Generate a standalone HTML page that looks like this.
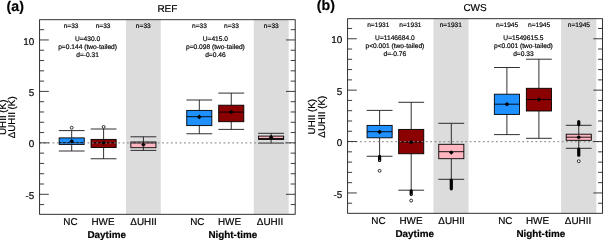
<!DOCTYPE html>
<html><head><meta charset="utf-8"><title>UHII boxplots</title>
<style>
html,body{margin:0;padding:0;background:#fff;}
body{width:603px;height:240px;overflow:hidden;}
svg{display:block;will-change:transform;}
text{stroke:#000;stroke-width:0.18px;text-rendering:geometricPrecision;font-family:"Liberation Sans",sans-serif;fill:#000;}
</style></head><body>
<svg width="603" height="240" viewBox="0 0 603 240">
<rect width="603" height="240" fill="#fff"/>
<rect x="126.00" y="19.70" width="34.80" height="194.60" fill="#dcdcdc"/>
<rect x="253.80" y="19.70" width="34.90" height="194.60" fill="#dcdcdc"/>
<path d="M71.70 130.60V137.90M71.70 144.40V151.00M58.80 130.60H84.60M58.80 151.00H84.60" stroke="#1a1a1a" stroke-width="0.9" fill="none"/>
<rect x="59.15" y="137.90" width="25.10" height="6.50" fill="#1e90ff" stroke="#000" stroke-width="0.9"/>
<line x1="59.15" y1="142.65" x2="84.25" y2="142.65" stroke="#000" stroke-width="0.9"/>
<path d="M103.60 129.00V139.40M103.60 147.50V158.75M90.70 129.00H116.50M90.70 158.75H116.50" stroke="#1a1a1a" stroke-width="0.9" fill="none"/>
<rect x="91.05" y="139.40" width="25.10" height="8.10" fill="#8b0000" stroke="#000" stroke-width="0.9"/>
<line x1="91.05" y1="142.65" x2="116.15" y2="142.65" stroke="#000" stroke-width="0.9"/>
<path d="M143.40 136.80V142.00M143.40 147.70V150.40M130.50 136.80H156.30M130.50 150.40H156.30" stroke="#1a1a1a" stroke-width="0.9" fill="none"/>
<rect x="130.85" y="142.00" width="25.10" height="5.70" fill="#ffb6c1" stroke="#000" stroke-width="0.9"/>
<line x1="130.85" y1="143.00" x2="155.95" y2="143.00" stroke="#000" stroke-width="0.9"/>
<path d="M199.30 100.00V110.40M199.30 125.60V133.75M186.40 100.00H212.20M186.40 133.75H212.20" stroke="#1a1a1a" stroke-width="0.9" fill="none"/>
<rect x="186.75" y="110.40" width="25.10" height="15.20" fill="#1e90ff" stroke="#000" stroke-width="0.9"/>
<line x1="186.75" y1="116.70" x2="211.85" y2="116.70" stroke="#000" stroke-width="0.9"/>
<path d="M231.25 93.10V105.20M231.25 121.70V129.40M218.35 93.10H244.15M218.35 129.40H244.15" stroke="#1a1a1a" stroke-width="0.9" fill="none"/>
<rect x="218.70" y="105.20" width="25.10" height="16.50" fill="#8b0000" stroke="#000" stroke-width="0.9"/>
<line x1="218.70" y1="112.10" x2="243.80" y2="112.10" stroke="#000" stroke-width="0.9"/>
<path d="M271.10 133.30V136.10M271.10 139.50V143.10M258.20 133.30H284.00M258.20 143.10H284.00" stroke="#1a1a1a" stroke-width="0.9" fill="none"/>
<rect x="258.55" y="136.10" width="25.10" height="3.40" fill="#ffb6c1" stroke="#000" stroke-width="0.9"/>
<line x1="258.55" y1="138.50" x2="283.65" y2="138.50" stroke="#000" stroke-width="0.9"/>
<line x1="39.37" y1="142.85" x2="295.20" y2="142.85" stroke="#888" stroke-opacity="0.88" stroke-width="1.25" stroke-dasharray="1.75 2.635"/>
<circle cx="71.70" cy="127.70" r="1.45" fill="#fff" stroke="#000" stroke-width="0.8"/>
<path d="M71.70 138.90L74.00 141.20L71.70 143.50L69.40 141.20Z" fill="#000"/>
<circle cx="103.60" cy="126.90" r="1.45" fill="#fff" stroke="#000" stroke-width="0.8"/>
<path d="M103.60 140.40L105.90 142.70L103.60 145.00L101.30 142.70Z" fill="#000"/>
<path d="M143.40 142.50L145.70 144.80L143.40 147.10L141.10 144.80Z" fill="#000"/>
<path d="M199.30 114.60L201.60 116.90L199.30 119.20L197.00 116.90Z" fill="#000"/>
<path d="M231.25 109.70L233.55 112.00L231.25 114.30L228.95 112.00Z" fill="#000"/>
<path d="M271.10 135.00L273.40 137.30L271.10 139.60L268.80 137.30Z" fill="#000"/>
<rect x="39.60" y="19.70" width="255.60" height="194.60" fill="none" stroke="#1c1c1c" stroke-width="0.9"/>
<path d="M39.60 204.59h4.5M295.20 204.59h-4.5M39.60 194.30h9.2M295.20 194.30h-9.2M39.60 184.01h4.5M295.20 184.01h-4.5M39.60 173.72h4.5M295.20 173.72h-4.5M39.60 163.43h4.5M295.20 163.43h-4.5M39.60 153.14h4.5M295.20 153.14h-4.5M39.60 142.85h9.2M295.20 142.85h-9.2M39.60 132.56h4.5M295.20 132.56h-4.5M39.60 122.27h4.5M295.20 122.27h-4.5M39.60 111.98h4.5M295.20 111.98h-4.5M39.60 101.69h4.5M295.20 101.69h-4.5M39.60 91.40h9.2M295.20 91.40h-9.2M39.60 81.11h4.5M295.20 81.11h-4.5M39.60 70.82h4.5M295.20 70.82h-4.5M39.60 60.53h4.5M295.20 60.53h-4.5M39.60 50.24h4.5M295.20 50.24h-4.5M39.60 39.95h9.2M295.20 39.95h-9.2M39.60 29.66h4.5M295.20 29.66h-4.5" stroke="#1c1c1c" stroke-width="0.85" fill="none"/>
<text x="34.30" y="44.50" font-size="9.9" text-anchor="end">10</text>
<text x="34.30" y="95.95" font-size="9.9" text-anchor="end">5</text>
<text x="34.30" y="147.40" font-size="9.9" text-anchor="end">0</text>
<text x="34.30" y="198.85" font-size="9.9" text-anchor="end">-5</text>
<text x="167.40" y="12.00" font-size="10" text-anchor="middle">REF</text>
<text x="6.60" y="10.70" font-size="14.2" font-weight="bold">(a)</text>
<text x="71.10" y="28.05" font-size="6.6" text-anchor="middle">n=33</text>
<text x="103.10" y="28.05" font-size="6.6" text-anchor="middle">n=33</text>
<text x="143.30" y="28.05" font-size="6.6" text-anchor="middle">n=33</text>
<text x="199.50" y="28.05" font-size="6.6" text-anchor="middle">n=33</text>
<text x="231.45" y="28.05" font-size="6.6" text-anchor="middle">n=33</text>
<text x="271.30" y="28.05" font-size="6.6" text-anchor="middle">n=33</text>
<text x="87.60" y="40.95" font-size="6.65" text-anchor="middle">U=430.0</text>
<text x="87.60" y="48.80" font-size="6.65" text-anchor="middle">p=0.144 (two-tailed)</text>
<text x="87.60" y="56.65" font-size="6.65" text-anchor="middle">d=-0.31</text>
<text x="215.40" y="40.95" font-size="6.65" text-anchor="middle">U=415.0</text>
<text x="215.40" y="48.80" font-size="6.65" text-anchor="middle">p=0.098 (two-tailed)</text>
<text x="215.40" y="56.65" font-size="6.65" text-anchor="middle">d=0.46</text>
<text x="70.50" y="224.75" font-size="9.9" text-anchor="middle">NC</text>
<text x="103.00" y="224.75" font-size="9.9" text-anchor="middle">HWE</text>
<text x="143.50" y="224.75" font-size="9.9" text-anchor="middle">ΔUHII</text>
<text x="197.30" y="224.75" font-size="9.9" text-anchor="middle">NC</text>
<text x="229.50" y="224.75" font-size="9.9" text-anchor="middle">HWE</text>
<text x="270.00" y="224.75" font-size="9.9" text-anchor="middle">ΔUHII</text>
<text x="106.70" y="237.75" font-size="9.9" font-weight="bold" text-anchor="middle">Daytime</text>
<text x="232.80" y="237.75" font-size="9.9" font-weight="bold" text-anchor="middle">Night-time</text>
<text transform="translate(5.80 117.30) rotate(-90)" font-size="9.8" text-anchor="middle">UHII (K)</text>
<text transform="translate(15.40 117.30) rotate(-90)" font-size="9.8" text-anchor="middle">ΔUHII (K)</text>
<rect x="433.50" y="18.70" width="35.00" height="194.60" fill="#dcdcdc"/>
<rect x="561.10" y="18.70" width="35.20" height="194.60" fill="#dcdcdc"/>
<path d="M379.60 110.40V125.40M379.60 137.80V156.25M366.70 110.40H392.50M366.70 156.25H392.50" stroke="#1a1a1a" stroke-width="0.9" fill="none"/>
<rect x="367.05" y="125.40" width="25.10" height="12.40" fill="#1e90ff" stroke="#000" stroke-width="0.9"/>
<line x1="367.05" y1="131.70" x2="392.15" y2="131.70" stroke="#000" stroke-width="0.9"/>
<path d="M411.20 102.30V129.40M411.20 153.75V190.20M398.30 102.30H424.10M398.30 190.20H424.10" stroke="#1a1a1a" stroke-width="0.9" fill="none"/>
<rect x="398.65" y="129.40" width="25.10" height="24.35" fill="#8b0000" stroke="#000" stroke-width="0.9"/>
<line x1="398.65" y1="142.00" x2="423.75" y2="142.00" stroke="#000" stroke-width="0.9"/>
<path d="M451.30 123.30V144.30M451.30 158.70V179.30M438.40 123.30H464.20M438.40 179.30H464.20" stroke="#1a1a1a" stroke-width="0.9" fill="none"/>
<rect x="438.75" y="144.30" width="25.10" height="14.40" fill="#ffb6c1" stroke="#000" stroke-width="0.9"/>
<line x1="438.75" y1="151.70" x2="463.85" y2="151.70" stroke="#000" stroke-width="0.9"/>
<path d="M506.90 67.50V94.20M506.90 114.40V134.60M494.00 67.50H519.80M494.00 134.60H519.80" stroke="#1a1a1a" stroke-width="0.9" fill="none"/>
<rect x="494.35" y="94.20" width="25.10" height="20.20" fill="#1e90ff" stroke="#000" stroke-width="0.9"/>
<line x1="494.35" y1="104.20" x2="519.45" y2="104.20" stroke="#000" stroke-width="0.9"/>
<path d="M538.90 59.20V88.30M538.90 111.00V138.30M526.00 59.20H551.80M526.00 138.30H551.80" stroke="#1a1a1a" stroke-width="0.9" fill="none"/>
<rect x="526.35" y="88.30" width="25.10" height="22.70" fill="#8b0000" stroke="#000" stroke-width="0.9"/>
<line x1="526.35" y1="99.50" x2="551.45" y2="99.50" stroke="#000" stroke-width="0.9"/>
<path d="M578.75 125.30V134.20M578.75 140.30V148.30M565.85 125.30H591.65M565.85 148.30H591.65" stroke="#1a1a1a" stroke-width="0.9" fill="none"/>
<rect x="566.20" y="134.20" width="25.10" height="6.10" fill="#ffb6c1" stroke="#000" stroke-width="0.9"/>
<line x1="566.20" y1="137.20" x2="591.30" y2="137.20" stroke="#000" stroke-width="0.9"/>
<line x1="346.95" y1="141.55" x2="602.55" y2="141.55" stroke="#888" stroke-opacity="0.88" stroke-width="1.25" stroke-dasharray="1.75 2.635"/>
<circle cx="379.60" cy="170.80" r="1.45" fill="#fff" stroke="#000" stroke-width="0.8"/>
<line x1="379.60" y1="156.40" x2="379.60" y2="160.40" stroke="#000" stroke-width="3.2" stroke-linecap="round"/>
<circle cx="379.60" cy="160.30" r="0.55" fill="#fff" fill-opacity="0.85"/>
<path d="M379.60 129.60L381.90 131.90L379.60 134.20L377.30 131.90Z" fill="#000"/>
<circle cx="411.20" cy="200.60" r="1.45" fill="#fff" stroke="#000" stroke-width="0.8"/>
<line x1="411.20" y1="190.80" x2="411.20" y2="194.40" stroke="#000" stroke-width="3.2" stroke-linecap="round"/>
<circle cx="411.20" cy="194.30" r="0.45" fill="#fff" fill-opacity="0.85"/>
<path d="M411.20 140.00L413.50 142.30L411.20 144.60L408.90 142.30Z" fill="#000"/>
<line x1="451.30" y1="180.20" x2="451.30" y2="188.80" stroke="#000" stroke-width="3.2" stroke-linecap="round"/>
<path d="M451.30 150.20L453.60 152.50L451.30 154.80L449.00 152.50Z" fill="#000"/>
<path d="M506.90 101.90L509.20 104.20L506.90 106.50L504.60 104.20Z" fill="#000"/>
<path d="M538.90 97.20L541.20 99.50L538.90 101.80L536.60 99.50Z" fill="#000"/>
<circle cx="578.75" cy="161.20" r="1.45" fill="#fff" stroke="#000" stroke-width="0.8"/>
<line x1="578.75" y1="121.60" x2="578.75" y2="124.70" stroke="#000" stroke-width="3.2" stroke-linecap="round"/>
<line x1="578.75" y1="149.10" x2="578.75" y2="155.20" stroke="#000" stroke-width="3.2" stroke-linecap="round"/>
<path d="M578.75 134.90L581.05 137.20L578.75 139.50L576.45 137.20Z" fill="#000"/>
<rect x="347.60" y="18.70" width="254.95" height="194.60" fill="none" stroke="#1c1c1c" stroke-width="0.9"/>
<path d="M347.60 203.23h4.5M602.55 203.23h-4.5M347.60 192.95h9.2M602.55 192.95h-9.2M347.60 182.67h4.5M602.55 182.67h-4.5M347.60 172.39h4.5M602.55 172.39h-4.5M347.60 162.11h4.5M602.55 162.11h-4.5M347.60 151.83h4.5M602.55 151.83h-4.5M347.60 141.55h9.2M602.55 141.55h-9.2M347.60 131.27h4.5M602.55 131.27h-4.5M347.60 120.99h4.5M602.55 120.99h-4.5M347.60 110.71h4.5M602.55 110.71h-4.5M347.60 100.43h4.5M602.55 100.43h-4.5M347.60 90.15h9.2M602.55 90.15h-9.2M347.60 79.87h4.5M602.55 79.87h-4.5M347.60 69.59h4.5M602.55 69.59h-4.5M347.60 59.31h4.5M602.55 59.31h-4.5M347.60 49.03h4.5M602.55 49.03h-4.5M347.60 38.75h9.2M602.55 38.75h-9.2M347.60 28.47h4.5M602.55 28.47h-4.5" stroke="#1c1c1c" stroke-width="0.85" fill="none"/>
<text x="342.30" y="43.30" font-size="9.9" text-anchor="end">10</text>
<text x="342.30" y="94.70" font-size="9.9" text-anchor="end">5</text>
<text x="342.30" y="146.10" font-size="9.9" text-anchor="end">0</text>
<text x="342.30" y="197.50" font-size="9.9" text-anchor="end">-5</text>
<text x="475.07" y="11.00" font-size="10" text-anchor="middle">CWS</text>
<text x="316.80" y="10.30" font-size="14.2" font-weight="bold">(b)</text>
<text x="378.30" y="27.05" font-size="6.6" text-anchor="middle">n=1931</text>
<text x="410.40" y="27.05" font-size="6.6" text-anchor="middle">n=1931</text>
<text x="450.80" y="27.05" font-size="6.6" text-anchor="middle">n=1931</text>
<text x="507.10" y="27.05" font-size="6.6" text-anchor="middle">n=1945</text>
<text x="539.10" y="27.05" font-size="6.6" text-anchor="middle">n=1945</text>
<text x="578.95" y="27.05" font-size="6.6" text-anchor="middle">n=1945</text>
<text x="394.90" y="39.95" font-size="6.65" text-anchor="middle">U=1146684.0</text>
<text x="394.90" y="47.80" font-size="6.65" text-anchor="middle">p&lt;0.001 (two-tailed)</text>
<text x="394.90" y="55.65" font-size="6.65" text-anchor="middle">d=-0.76</text>
<text x="523.40" y="39.95" font-size="6.65" text-anchor="middle">U=1549615.5</text>
<text x="523.40" y="47.80" font-size="6.65" text-anchor="middle">p&lt;0.001 (two-tailed)</text>
<text x="523.40" y="55.65" font-size="6.65" text-anchor="middle">d=0.33</text>
<text x="378.50" y="223.75" font-size="9.9" text-anchor="middle">NC</text>
<text x="411.00" y="223.75" font-size="9.9" text-anchor="middle">HWE</text>
<text x="451.50" y="223.75" font-size="9.9" text-anchor="middle">ΔUHII</text>
<text x="505.30" y="223.75" font-size="9.9" text-anchor="middle">NC</text>
<text x="537.50" y="223.75" font-size="9.9" text-anchor="middle">HWE</text>
<text x="578.00" y="223.75" font-size="9.9" text-anchor="middle">ΔUHII</text>
<text x="414.70" y="236.75" font-size="9.9" font-weight="bold" text-anchor="middle">Daytime</text>
<text x="540.80" y="236.75" font-size="9.9" font-weight="bold" text-anchor="middle">Night-time</text>
<text transform="translate(314.50 116.70) rotate(-90)" font-size="9.8" text-anchor="middle">UHII (K)</text>
<text transform="translate(324.90 116.70) rotate(-90)" font-size="9.8" text-anchor="middle">ΔUHII (K)</text>
</svg>
</body></html>
